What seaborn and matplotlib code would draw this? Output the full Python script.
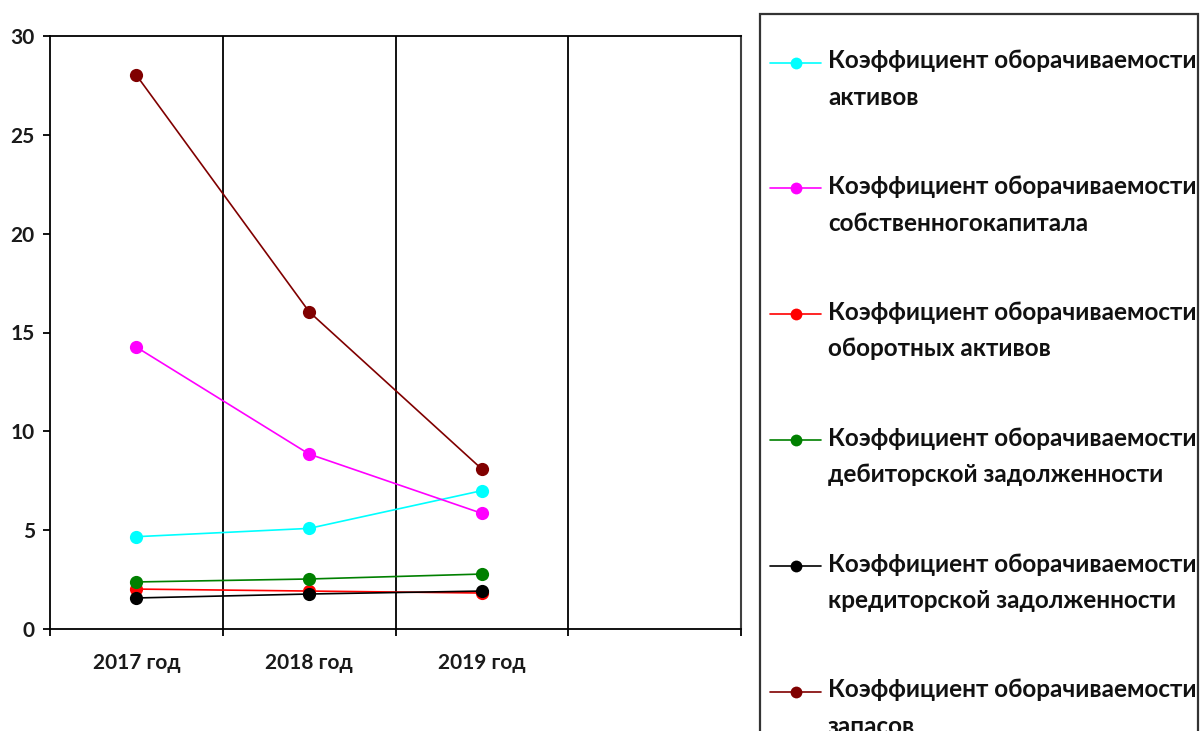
import numpy as np
import pandas as pd
import matplotlib
matplotlib.use("Agg")
import matplotlib.pyplot as plt
import seaborn as sns
from matplotlib.lines import Line2D
from matplotlib.patches import Rectangle
from matplotlib.legend_handler import HandlerLine2D

# ---- data -------------------------------------------------------------
years = ["2017 год", "2018 год", "2019 год"]
n_slots = 4  # category axis keeps one empty slot on the right

series_names = [
    "Коэффициент оборачиваемости\nактивов",
    "Коэффициент оборачиваемости\nсобственногокапитала",
    "Коэффициент оборачиваемости\nоборотных активов",
    "Коэффициент оборачиваемости\nдебиторской задолженности",
    "Коэффициент оборачиваемости\nкредиторской задолженности",
    "Коэффициент оборачиваемости\nзапасов",
]
assets_turnover = [4.67, 5.09, 7.00]
equity_turnover = [14.26, 8.85, 5.85]
current_assets_turnover = [2.02, 1.92, 1.82]
receivables_turnover = [2.38, 2.53, 2.78]
payables_turnover = [1.57, 1.77, 1.92]
inventory_turnover = [28.02, 16.05, 8.09]

series_colors = ["#00FFFF", "#FF00FF", "#FF0000", "#008000", "#000000", "#800000"]
y_ticks = [0, 5, 10, 15, 20, 25, 30]

all_values = [assets_turnover, equity_turnover, current_assets_turnover,
              receivables_turnover, payables_turnover, inventory_turnover]

rows = []
for name, vals in zip(series_names, all_values):
    for i, (yr, v) in enumerate(zip(years, vals)):
        rows.append({"series": name, "year": yr, "pos": i, "value": v})
df = pd.DataFrame(rows)

# ---- style ------------------------------------------------------------
sns.set_theme(style="white")
plt.rcParams["font.family"] = ["Lato", "DejaVu Sans"]
plt.rcParams["font.weight"] = "bold"

W, H = 1201, 731
fig = plt.figure(figsize=(W / 100, H / 100), dpi=100)
fig.patch.set_facecolor("white")

ax = fig.add_axes([50 / W, 1 - 629 / H, (741 - 50) / W, (629 - 36) / H])
ax.set_facecolor("white")

sns.lineplot(
    data=df, x="pos", y="value", hue="series",
    hue_order=series_names, palette=series_colors,
    marker="o", markersize=9.5, markeredgewidth=0,
    linewidth=1.2, sort=False, legend=False, ax=ax,
)

ax.set_xlim(-0.5, n_slots - 0.5)
ax.set_ylim(0, 30)
ax.set_xlabel("")
ax.set_ylabel("")

# category boundaries carry the tick marks, centres carry the labels
bounds = np.arange(n_slots + 1) - 0.5
ax.set_xticks(bounds)
ax.set_xticklabels([])
ax.set_xticks(np.arange(len(years)), minor=True)
ax.set_xticklabels(years, minor=True)
ax.tick_params(axis="x", which="major", direction="out", length=5,
               width=1.3, color="black", bottom=True)
ax.tick_params(axis="x", which="minor", length=0, pad=17,
               labelsize=15, labelcolor="#1a1a1a")

ax.set_yticks(y_ticks)
ax.tick_params(axis="y", direction="out", length=5, width=1.3,
               color="black", left=True, pad=6,
               labelsize=15, labelcolor="#1a1a1a")

for b in bounds[1:-1]:
    ax.axvline(b, color="black", lw=1.3, zorder=0)

for side in ["left", "bottom", "top"]:
    ax.spines[side].set_color("black")
    ax.spines[side].set_linewidth(1.3)
ax.spines["right"].set_color("#404040")
ax.spines["right"].set_linewidth(1.5)
ax.grid(False)

# ---- legend -------------------------------------------------------------
class FirstLineHandler(HandlerLine2D):
    """Place the legend key level with the first line of a two-line label."""

    def __init__(self, shift, **kw):
        super().__init__(**kw)
        self.shift = shift

    def create_artists(self, legend, orig_handle, xdescent, ydescent,
                       width, height, fontsize, trans):
        artists = super().create_artists(legend, orig_handle, xdescent,
                                         ydescent, width, height, fontsize,
                                         trans)
        for a in artists:
            a.set_ydata(np.asarray(a.get_ydata()) + self.shift)
        return artists


fig.add_artist(Rectangle((760 / W, -0.05), (1198 - 760) / W, (H - 14) / H + 0.05,
                         transform=fig.transFigure, facecolor="white",
                         edgecolor="#333333", lw=1.6, zorder=1))

legend_size = 17.5
handles = [Line2D([], [], color=c, lw=1.2, marker="o", markersize=8.5,
                  markeredgewidth=0) for c in series_colors]
handler = FirstLineHandler(shift=12.6, numpoints=1)
leg = fig.legend(
    handles, series_names, loc="upper left",
    bbox_to_anchor=(770 / W, 1 - 49.5 / H),
    frameon=False, borderpad=0, borderaxespad=0,
    handlelength=2.1, handletextpad=0.29, labelspacing=2.735,
    prop={"family": ["Lato", "DejaVu Sans"], "weight": "bold", "size": legend_size},
    labelcolor="#111111",
    handler_map={h: handler for h in handles},
)
leg.set_zorder(2)
for t in leg.get_texts():
    t.set_linespacing(1.70)

fig.savefig("out.png", dpi=100)
